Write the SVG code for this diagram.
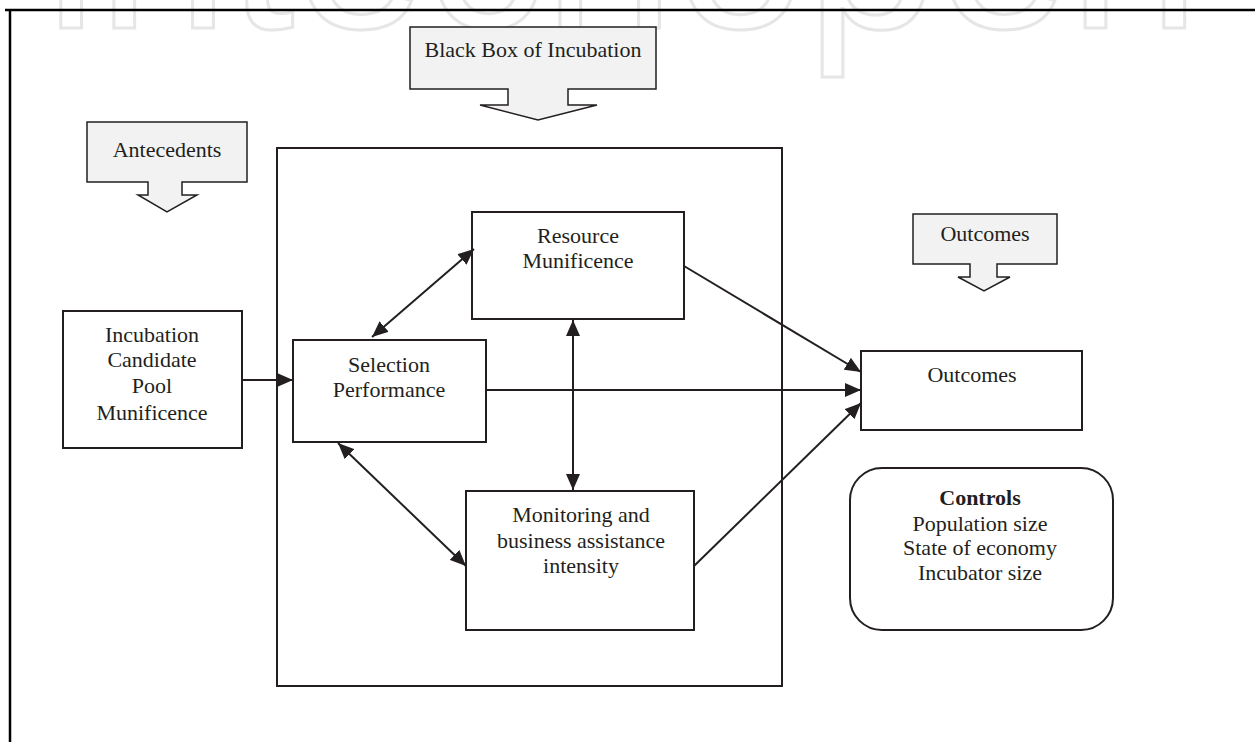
<svg xmlns="http://www.w3.org/2000/svg" width="1255" height="742" viewBox="0 0 1255 742">
<style>
.t{font-family:"Liberation Serif","DejaVu Serif",serif;font-size:22px;fill:#231f20;text-anchor:middle}
.b{fill:#fff;stroke:#231f20;stroke-width:2}
.c{fill:#f2f2f2;stroke:#231f20;stroke-width:1.5}
.l{stroke:#231f20;stroke-width:2;fill:none}
.wm{font-family:"Liberation Sans","DejaVu Sans",sans-serif;font-size:236px;fill:none;stroke:#e6e6e6;stroke-width:3}
</style>
<defs>
<marker id="ah" markerUnits="userSpaceOnUse" markerWidth="18" markerHeight="14" refX="16" refY="7" orient="auto-start-reverse" viewBox="0 0 18 14">
<path d="M0,0 L16,7 L0,14 z" fill="#231f20"/>
</marker>
</defs>
<rect width="1255" height="742" fill="#fff"/>
<text class="wm" x="45" y="28" textLength="1155" lengthAdjust="spacingAndGlyphs">intechopen</text>
<g id="frame">
<path d="M5,10 H1255 M10,10 V742" stroke="#000" stroke-width="2.5" fill="none"/>
</g>
<g id="black-box-callout">
<path class="c" d="M410,27 H656 V89 H568 V105 H597 L538,120 L480,105 H508 V89 H410 Z"/>
<text class="t" x="533" y="57">Black Box of Incubation</text>
</g>
<g id="antecedents-callout">
<path class="c" d="M87,122 H247 V182 H182 V195 H197 L167,212 L138,195 H148 V182 H87 Z"/>
<text class="t" x="167" y="157">Antecedents</text>
</g>
<g id="outcomes-callout">
<path class="c" d="M913,214 H1057 V264 H997 V277 H1010 L984,291 L958,277 H970 V264 H913 Z"/>
<text class="t" x="985" y="241">Outcomes</text>
</g>
<g id="black-box">
<rect class="b" x="277" y="148" width="505" height="538" fill="none"/>
</g>
<g id="candidate-pool">
<rect class="b" x="63" y="311" width="179" height="137"/>
<text class="t" x="152" y="342">Incubation</text>
<text class="t" x="152" y="367">Candidate</text>
<text class="t" x="152" y="393">Pool</text>
<text class="t" x="152" y="420">Munificence</text>
</g>
<g id="selection-performance">
<rect class="b" x="293" y="340" width="193" height="102"/>
<text class="t" x="389" y="372">Selection</text>
<text class="t" x="389" y="397">Performance</text>
</g>
<g id="resource-munificence">
<rect class="b" x="472" y="212" width="212" height="107"/>
<text class="t" x="578" y="243">Resource</text>
<text class="t" x="578" y="268">Munificence</text>
</g>
<g id="monitoring">
<rect class="b" x="466" y="491" width="228" height="139"/>
<text class="t" x="581" y="522">Monitoring and</text>
<text class="t" x="581" y="548">business assistance</text>
<text class="t" x="581" y="573">intensity</text>
</g>
<g id="outcomes">
<rect class="b" x="861" y="351" width="221" height="79"/>
<text class="t" x="972" y="382">Outcomes</text>
</g>
<g id="controls">
<rect class="b" x="850" y="468" width="263" height="162" rx="32"/>
<text class="t" x="980" y="505" font-weight="bold">Controls</text>
<text class="t" x="980" y="531">Population size</text>
<text class="t" x="980" y="555">State of economy</text>
<text class="t" x="980" y="580">Incubator size</text>
</g>
<g id="connectors">
<line class="l" x1="242" y1="380" x2="293" y2="380" marker-end="url(#ah)"/>
<line class="l" x1="372" y1="337" x2="474" y2="249" marker-start="url(#ah)" marker-end="url(#ah)"/>
<line class="l" x1="573" y1="320" x2="573" y2="490" marker-start="url(#ah)" marker-end="url(#ah)"/>
<line class="l" x1="338" y1="443" x2="466" y2="566" marker-start="url(#ah)" marker-end="url(#ah)"/>
<line class="l" x1="486" y1="390" x2="861" y2="390" marker-end="url(#ah)"/>
<line class="l" x1="684" y1="266" x2="861" y2="372" marker-end="url(#ah)"/>
<line class="l" x1="694" y1="566" x2="861" y2="403" marker-end="url(#ah)"/>
</g>
</svg>
